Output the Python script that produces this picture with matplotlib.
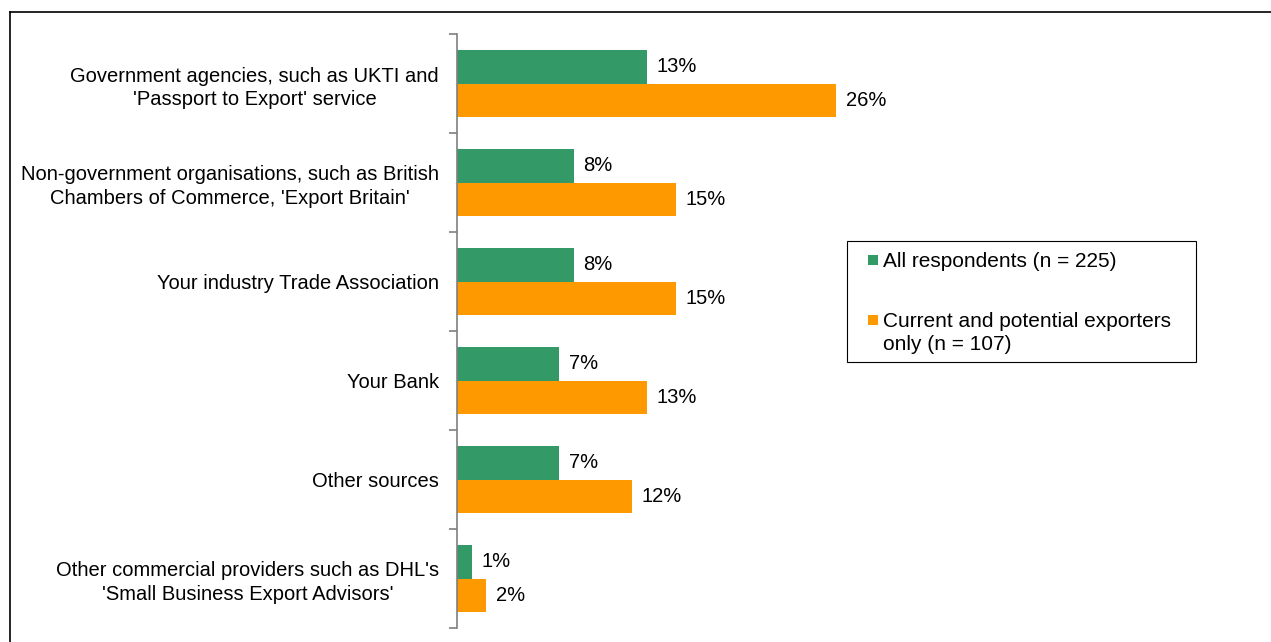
import numpy as np
import matplotlib.pyplot as plt
from matplotlib.lines import Line2D
from matplotlib.patches import Rectangle
from matplotlib.ticker import FixedLocator

plt.rcParams['font.family'] = ['Liberation Sans', 'DejaVu Sans']

categories = [
    "Government agencies, such as UKTI and\n'Passport to Export' service",
    "Non-government organisations, such as British\nChambers of Commerce, 'Export Britain'",
    "Your industry Trade Association",
    "Your Bank",
    "Other sources",
    "Other commercial providers such as DHL's\n'Small Business Export Advisors'",
]
all_resp = [13, 8, 8, 7, 7, 1]
exporters = [26, 15, 15, 13, 12, 2]
series_names = ["All respondents (n = 225)",
                "Current and potential exporters\nonly (n = 107)"]

green = '#339966'
orange = '#FF9900'
fs = 14.5

W, H = 1271, 642
fig = plt.figure(figsize=(W / 100, H / 100), dpi=100)
ax = fig.add_axes([457 / W, (H - 628) / H, (1260 - 457) / W, (628 - 34) / H])

n = len(categories)
y = np.arange(n)
bh = 0.343
ax.barh(y - bh / 2, all_resp, height=bh, color=green, label=series_names[0])
ax.barh(y + bh / 2, exporters, height=bh, color=orange, label=series_names[1])

for i in range(n):
    ax.text(all_resp[i] + 0.65, y[i] - bh / 2, f"{all_resp[i]}%", va='center',
            ha='left', fontsize=fs)
    ax.text(exporters[i] + 0.65, y[i] + bh / 2, f"{exporters[i]}%", va='center',
            ha='left', fontsize=fs)

ax.set_xlim(0, (1260 - 457) / 14.58)
ax.set_ylim(n - 0.5, -0.5)

# category labels centred, boundary ticks
ax.yaxis.set_major_locator(FixedLocator(np.arange(-0.5, n, 1.0)))
ax.yaxis.set_minor_locator(FixedLocator(y))
ax.set_yticklabels([''] * (n + 1))
ax.set_yticklabels(categories, minor=True, fontsize=fs, ha='right',
                   multialignment='center', linespacing=1.3)
ax.tick_params(axis='y', which='major', length=6, color='#7f7f7f', width=1.2)
ax.tick_params(axis='y', which='minor', length=0, pad=13)
ax.set_xticks([])
for s in ['top', 'right', 'bottom']:
    ax.spines[s].set_visible(False)
ax.spines['left'].set_color('#7f7f7f')
ax.spines['left'].set_linewidth(1.2)

# legend drawn by hand (Excel style: marker on first text line)
def fx(px):
    return px / W

def fy(py):
    return (H - py) / H

fig.add_artist(Rectangle((fx(847), fy(362)), fx(1196) - fx(847),
                         fy(241) - fy(362), transform=fig.transFigure,
                         facecolor='white', edgecolor='black', lw=0.8))
for col, name, ty in [(green, series_names[0], 260), (orange, series_names[1], 320)]:
    fig.add_artist(Rectangle((fx(868), fy(ty + 5)), fx(878) - fx(868),
                             fy(ty - 5) - fy(ty + 5), transform=fig.transFigure,
                             facecolor=col, edgecolor='none'))
    fig.text(fx(883), fy(ty - 8), name, ha='left', va='top', fontsize=15,
             linespacing=1.25)

# outer border (left and top only visible)
fig.add_artist(Line2D([9.5 / W, 9.5 / W], [0, (H - 12) / H], color='black',
                      lw=1.2, transform=fig.transFigure))
fig.add_artist(Line2D([9.5 / W, 1], [(H - 12) / H, (H - 12) / H],
                      color='black', lw=1.2, transform=fig.transFigure))

fig.savefig('out.png', dpi=100)
